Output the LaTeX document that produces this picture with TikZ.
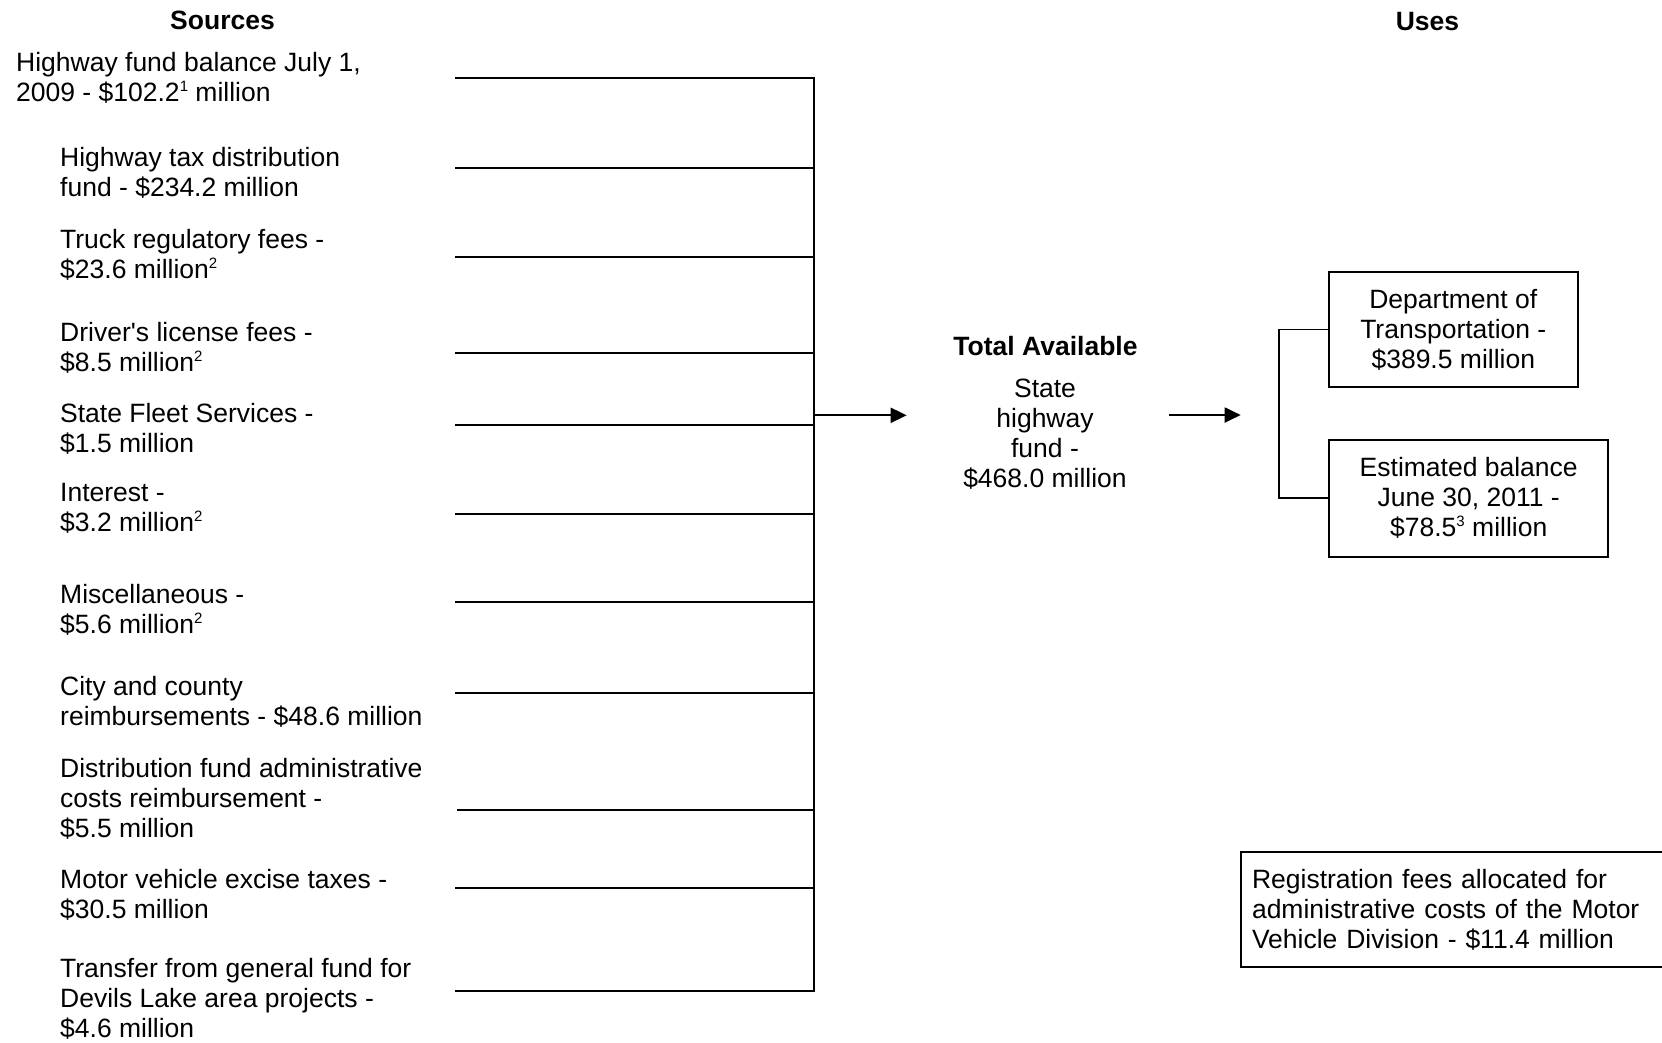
\documentclass[tikz,border=0pt]{standalone}
\usepackage{fontspec}
\setmainfont{Liberation Sans}
\usetikzlibrary{arrows.meta}
\newcommand\mystrut{\rule{0pt}{22pt}}
\newcommand\supnum[1]{\raisebox{10pt}{\fontsize{15}{15}\selectfont #1}}
\begin{document}
\begin{tikzpicture}[x=1pt,y=-1pt,
  every node/.style={font=\fontsize{26.5}{30}\selectfont},
  src/.style={anchor=north west, inner sep=0pt, align=left},
  hdr/.style={anchor=base, inner sep=0pt, font=\fontsize{26.5}{30}\selectfont\bfseries},
  wire/.style={line width=1.9pt},
  usebox/.style={draw, line width=1.9pt, inner sep=2pt, align=center},
  arr/.style={line width=1.9pt, -{Triangle[length=16pt,width=15pt]}}]
\useasboundingbox (0,0) rectangle (1662,1042);

% headers
\node[hdr] (hsrc) at (222.5,29) {Sources};
\node[hdr] (huse) at (1427.5,30) {Uses};

% source labels
\node[src] (s1) at (16,49) {\mystrut Highway fund balance July 1,\\2009 - \$102.2\supnum{1} million};
\node[src] (s2) at (60,144) {\mystrut Highway tax distribution\\fund - \$234.2 million};
\node[src] (s3) at (60,226) {\mystrut Truck regulatory fees -\\\$23.6 million\supnum{2}};
\node[src] (s4) at (60,319) {\mystrut Driver\textquotesingle s license fees -\\\$8.5 million\supnum{2}};
\node[src] (s5) at (60,400) {\mystrut State Fleet Services -\\\$1.5 million};
\node[src] (s6) at (60,479) {\mystrut Interest -\\\$3.2 million\supnum{2}};
\node[src] (s7) at (60,581) {\mystrut Miscellaneous -\\\$5.6 million\supnum{2}};
\node[src] (s8) at (60,673) {\mystrut City and county\\reimbursements - \$48.6 million};
\node[src] (s9) at (60,755) {\mystrut Distribution fund administrative\\costs reimbursement -\\\$5.5 million};
\node[src] (s10) at (60,866) {\mystrut Motor vehicle excise taxes -\\\$30.5 million};
\node[src] (s11) at (60,955) {\mystrut Transfer from general fund for\\Devils Lake area projects -\\\$4.6 million};

% feeder lines
\coordinate (l1) at (455,77.7);
\coordinate (l2) at (455,168.3);
\coordinate (l3) at (455,256.7);
\coordinate (l4) at (455,353.3);
\coordinate (l5) at (455,425.3);
\coordinate (l6) at (455,514.3);
\coordinate (l7) at (455,601.7);
\coordinate (l8) at (455,692.7);
\coordinate (l9) at (457,809.7);
\coordinate (l10) at (455,888.3);
\coordinate (l11) at (455,991);
\coordinate (sptop) at (814,77.7);
\coordinate (spbot) at (814,991);
\draw[wire] (l1) -- (sptop) -- (spbot) -- (l11);
\foreach \i in {2,...,10} \draw[wire] (l\i) -- (l\i -| sptop);

% arrow to total
\coordinate (j1) at (814,415.3);
\coordinate (a1) at (906.7,415.3);
\draw[arr] (j1) -- (a1);

% total available
\node[hdr] (tot) at (1045.5,355) {Total Available};
\node[anchor=north, inner sep=0pt, align=center] (fund) at (1045,375) {\mystrut State\\highway\\fund -\\\$468.0 million};

% arrow to uses
\coordinate (b1) at (1169,415);
\coordinate (b2) at (1240.7,415);
\draw[arr] (b1) -- (b2);

% uses boxes
\node[usebox, minimum width=248.7pt, minimum height=115.6pt] (dot) at (1453.3,329.5) {Department of\\Transportation -\\\$389.5 million};
\node[usebox, minimum width=279.3pt, minimum height=116.7pt] (est) at (1468.7,498.3) {Estimated balance\\June 30, 2011 -\\\$78.5\supnum{3} million};
\draw[wire] (dot.west) -- ++(-49,0) |- (est.west);

% registration fees box
\node[draw, line width=1.9pt, inner xsep=11pt, inner ysep=2pt, text width=400pt, align=left, minimum height=115pt] (reg) at (1452,909.5) {Registration fees allocated for\\administrative costs of the Motor\\Vehicle Division - \$11.4 million};
\end{tikzpicture}
\end{document}
